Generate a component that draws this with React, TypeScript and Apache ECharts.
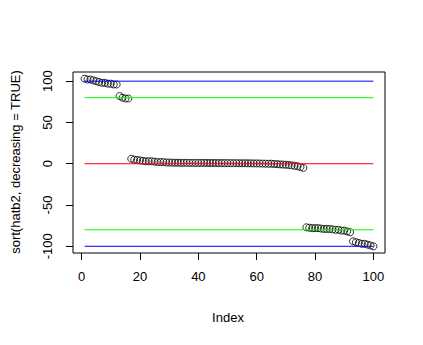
import React, { useEffect, useRef } from "react";
import * as echarts from "echarts";

const topValues = [103, 102, 102, 101, 100, 99, 98, 98, 97, 97, 96, 96];
const upperMidValues = [82, 80, 79, 79];
const zeroValues = [
  6, 5, 4.5, 4, 3.5, 3, 3, 3, 2.5, 2, 2, 2, 1.5, 1.5, 1.3, 1.2, 1.2, 1.1, 1.1, 1.1,
  1, 1, 1, 1, 1, 1, 1, 0.9, 0.9, 0.9, 0.8, 0.8, 0.8, 0.8, 0.7, 0.7, 0.7, 0.6, 0.6, 0.6,
  0.5, 0.5, 0.4, 0.4, 0.3, 0.2, 0.1, 0, 0, -0.3, -0.5, -0.8, -1, -1.2, -1.5, -2, -2.5, -3, -4, -5,
];
const lowerMidValues = [-77, -77.5, -78, -78, -78, -78.5, -79, -79, -79, -79.5, -80, -80, -81, -81, -82, -83];
const bottomValues = [-94, -95, -96, -97, -97, -98, -99, -100];

const xTicks = [0, 20, 40, 60, 80, 100];
const yTicks = [-100, -50, 0, 50, 100];
const refLines = [
  { value: 100, color: "#0000ff" },
  { value: 80, color: "#00ff00" },
  { value: 0, color: "#ff0000" },
  { value: -80, color: "#00ff00" },
  { value: -100, color: "#0000ff" },
];

const sorted = [...topValues, ...upperMidValues, ...zeroValues, ...lowerMidValues, ...bottomValues];

export default function App() {
  const ref = useRef<HTMLDivElement>(null);
  useEffect(() => {
    document.body.style.margin = "0";
    const chart = echarts.init(ref.current!, null, { renderer: "svg" });
    const n = sorted.length;
    const xMin = 1 - 0.04 * (n - 1);
    const xMax = n + 0.04 * (n - 1);
    const yLo = Math.min(...sorted);
    const yHi = Math.max(...sorted);
    const yMin = yLo - 0.04 * (yHi - yLo);
    const yMax = yHi + 0.04 * (yHi - yLo);
    const font = "Liberation Sans, Arial, sans-serif";
    chart.setOption({
      animation: false,
      backgroundColor: "#fff",
      grid: {
        left: 73,
        top: 72,
        right: 38,
        bottom: 92,
        show: true,
        borderColor: "#000",
        borderWidth: 1,
      },
      xAxis: {
        type: "value",
        min: xMin,
        max: xMax,
        position: "bottom",
        splitLine: { show: false },
        axisLine: { show: false, onZero: false },
        axisTick: { show: true, inside: false, length: 7, customValues: xTicks, lineStyle: { color: "#000" } },
        axisLabel: { customValues: xTicks, margin: 17, fontSize: 13, color: "#000", fontFamily: font },
      },
      yAxis: {
        type: "value",
        min: yMin,
        max: yMax,
        position: "left",
        splitLine: { show: false },
        axisLine: { show: false, onZero: false },
        axisTick: { show: true, inside: false, length: 7, customValues: yTicks, lineStyle: { color: "#000" } },
        axisLabel: { customValues: yTicks, rotate: 90, margin: 19, fontSize: 13, color: "#000", fontFamily: font },
      },
      graphic: [
        {
          type: "text",
          x: 228,
          y: 317,
          style: { text: "Index", fontSize: 13, fill: "#000", fontFamily: font, textAlign: "center", textVerticalAlign: "middle" },
        },
        {
          type: "text",
          x: 15,
          y: 162,
          rotation: Math.PI / 2,
          style: {
            text: "sort(hatb2, decreasing = TRUE)",
            fontSize: 13,
            fill: "#000",
            fontFamily: font,
            textAlign: "center",
            textVerticalAlign: "middle",
          },
        },
      ],
      series: [
        {
          type: "scatter",
          data: sorted.map((v, i) => [i + 1, v]),
          symbol: "circle",
          symbolSize: 7,
          itemStyle: { color: "rgba(0,0,0,0)", borderColor: "#000", borderWidth: 1 },
          z: 2,
        },
        ...refLines.map((l) => ({
          type: "line",
          data: [
            [1, l.value],
            [n, l.value],
          ],
          symbol: "none",
          lineStyle: { color: l.color, width: 1 },
          z: 3,
        })),
      ],
    });
    return () => chart.dispose();
  }, []);
  return <div ref={ref} style={{ width: 423, height: 345 }} />;
}
